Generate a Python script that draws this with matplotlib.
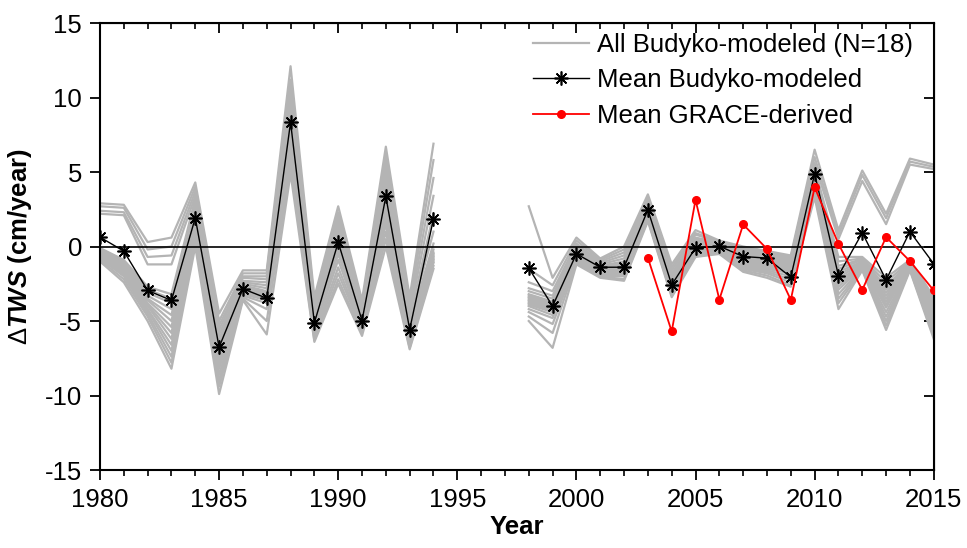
import numpy as np
import matplotlib.pyplot as plt
from matplotlib.ticker import MultipleLocator

plt.rcParams['font.family'] = ['Liberation Sans', 'DejaVu Sans']
plt.rcParams['axes.unicode_minus'] = False
plt.rcParams['mathtext.fontset'] = 'custom'
plt.rcParams['mathtext.rm'] = 'Liberation Sans'
plt.rcParams['mathtext.bfit'] = 'Liberation Sans:italic:bold'

# years of the two modelled periods (gap 1995-1997)
years_a = list(range(1980, 1995))
years_b = list(range(1998, 2016))
years_grace = list(range(2003, 2016))

# 18 Budyko-modeled series, period 1980-1994
models_a = [
    [2.9, 2.8, 0.3, 0.6, 4.3, -4.5, -1.6, -1.6, 12.1, -3.4, 2.7, -3.6, 6.7, -3.4, 6.9],
    [2.7, 2.6, -0.2, 0.0, 4.0, -5.0, -1.8, -1.8, 11.2, -3.7, 2.3, -3.9, 6.2, -3.8, 5.8],
    [2.4, 2.3, -0.7, -0.6, 3.7, -5.3, -2.0, -2.0, 10.6, -4.0, 2.0, -4.1, 5.7, -4.2, 4.6],
    [2.2, 2.1, -1.2, -1.2, 3.4, -5.6, -2.1, -2.2, 10.1, -4.2, 1.7, -4.3, 5.2, -4.5, 3.4],
    [-0.1, -0.9, -2.7, -3.2, 3.2, -5.9, -2.3, -2.4, 9.7, -4.4, 1.4, -4.5, 4.8, -4.8, 2.2],
    [-0.2, -1.0, -2.9, -3.5, 3.0, -6.2, -2.4, -2.6, 9.3, -4.6, 1.1, -4.6, 4.4, -5.0, 1.0],
    [-0.3, -1.1, -3.1, -3.8, 2.8, -6.5, -2.5, -2.8, 9.0, -4.8, 0.9, -4.7, 4.0, -5.2, 0.2],
    [-0.3, -1.2, -3.3, -4.2, 2.6, -6.7, -2.6, -3.0, 8.7, -4.9, 0.7, -4.8, 3.7, -5.4, -0.2],
    [-0.4, -1.3, -3.5, -4.6, 2.4, -6.9, -2.7, -3.1, 8.4, -5.0, 0.5, -4.9, 3.4, -5.6, -0.4],
    [-0.4, -1.4, -3.6, -5.0, 2.2, -7.1, -2.8, -3.2, 8.1, -5.1, 0.3, -5.0, 3.1, -5.8, -0.5],
    [-0.5, -1.5, -3.8, -5.4, 2.0, -7.3, -2.9, -3.3, 7.8, -5.2, 0.1, -5.1, 2.8, -6.0, -0.6],
    [-0.5, -1.6, -3.9, -5.8, 1.8, -7.6, -3.0, -3.4, 7.5, -5.3, -0.2, -5.2, 2.5, -6.1, -0.7],
    [-0.6, -1.7, -4.0, -6.2, 1.5, -7.9, -3.1, -3.5, 7.2, -5.5, -0.5, -5.3, 2.2, -6.2, -0.8],
    [-0.6, -1.8, -4.2, -6.6, 1.2, -8.2, -3.2, -3.6, 6.8, -5.7, -0.9, -5.4, 1.9, -6.4, -0.9],
    [-0.7, -1.9, -4.3, -7.0, 0.9, -8.6, -3.3, -3.8, 6.4, -5.9, -1.4, -5.5, 1.5, -6.5, -1.0],
    [-0.8, -2.0, -4.5, -7.4, 0.6, -9.0, -3.4, -4.2, 6.0, -6.1, -1.8, -5.6, 1.0, -6.6, -1.1],
    [-0.9, -2.2, -4.7, -7.8, 0.3, -9.4, -3.5, -5.0, 5.5, -6.3, -2.2, -5.8, 0.5, -6.8, -1.3],
    [-1.0, -2.4, -5.0, -8.2, 0.0, -9.9, -3.6, -5.9, 4.9, -6.4, -2.5, -6.0, 0.0, -6.9, -1.5],
]

# 18 Budyko-modeled series, period 1998-2015
models_b = [
    [2.7, -2.1, 0.6, -0.8, 0.0, 3.5, -1.2, 1.1, 0.4, 0.0, -0.3, -0.6, 6.5, 1.1, 5.1, 2.2, 5.9, 5.5],
    [-1.5, -2.6, 0.4, -0.9, -0.2, 3.3, -1.4, 0.9, 0.35, -0.1, -0.4, -0.7, 6.0, 0.8, 4.8, 1.9, 5.7, 5.35],
    [-2.4, -3.0, 0.2, -1.0, -0.4, 3.1, -1.6, 0.8, 0.3, -0.2, -0.5, -0.8, 5.6, 0.5, 4.4, 1.5, 5.5, 5.2],
    [-2.8, -3.3, 0.1, -1.1, -0.6, 3.0, -1.8, 0.6, 0.25, -0.3, -0.6, -0.9, 5.3, -0.7, -0.7, -2.1, -0.9, -3.4],
    [-3.0, -3.5, 0.0, -1.2, -0.8, 2.9, -2.0, 0.5, 0.2, -0.4, -0.7, -1.0, 5.0, -1.0, -0.8, -2.4, -0.95, -3.6],
    [-3.2, -3.7, -0.1, -1.3, -1.0, 2.8, -2.1, 0.4, 0.15, -0.5, -0.8, -1.1, 4.8, -1.3, -0.85, -2.7, -1.0, -3.8],
    [-3.3, -3.8, -0.2, -1.3, -1.1, 2.7, -2.2, 0.3, 0.1, -0.6, -0.9, -1.2, 4.6, -1.5, -0.9, -2.9, -1.05, -4.0],
    [-3.4, -3.9, -0.3, -1.4, -1.2, 2.6, -2.3, 0.2, 0.05, -0.7, -1.0, -1.3, 4.4, -1.7, -1.0, -3.1, -1.1, -4.2],
    [-3.5, -4.0, -0.4, -1.4, -1.3, 2.5, -2.4, 0.1, 0.0, -0.8, -1.1, -1.4, 4.3, -1.9, -1.05, -3.3, -1.15, -4.4],
    [-3.6, -4.1, -0.5, -1.5, -1.4, 2.4, -2.5, 0.0, -0.05, -0.9, -1.2, -1.5, 4.2, -2.1, -1.1, -3.5, -1.2, -4.6],
    [-3.7, -4.2, -0.6, -1.5, -1.5, 2.3, -2.6, -0.1, -0.1, -1.0, -1.3, -1.6, 4.1, -2.3, -1.2, -3.7, -1.25, -4.8],
    [-3.8, -4.3, -0.7, -1.6, -1.6, 2.2, -2.7, -0.2, -0.15, -1.1, -1.4, -1.7, 4.0, -2.5, -1.25, -3.9, -1.3, -5.0],
    [-3.9, -4.4, -0.8, -1.7, -1.7, 2.1, -2.8, -0.3, -0.2, -1.2, -1.5, -1.8, 3.9, -2.7, -1.3, -4.1, -1.35, -5.2],
    [-4.0, -4.6, -0.9, -1.8, -1.8, 2.0, -2.9, -0.4, -0.25, -1.3, -1.6, -2.0, 3.8, -2.9, -1.4, -4.4, -1.4, -5.4],
    [-4.2, -4.8, -1.0, -1.9, -1.9, 1.9, -3.0, -0.5, -0.3, -1.4, -1.7, -2.2, 3.7, -3.2, -1.45, -4.7, -1.45, -5.6],
    [-4.4, -5.2, -1.0, -2.0, -2.0, 1.8, -3.1, -0.5, -0.35, -1.5, -1.8, -2.4, 3.6, -3.5, -1.5, -5.0, -1.5, -5.8],
    [-4.7, -5.8, -1.1, -2.0, -2.2, 1.8, -3.3, -0.6, -0.4, -1.6, -1.95, -2.6, 3.5, -3.8, -1.55, -5.3, -1.55, -6.0],
    [-5.0, -6.8, -1.2, -2.1, -2.3, 1.7, -3.4, -0.7, -0.5, -1.7, -2.1, -2.7, 3.3, -4.2, -1.6, -5.6, -1.6, -6.2],
]

# mean of the Budyko-modeled series
mean_a = [0.63, -0.31, -2.95, -3.62, 1.92, -6.76, -2.84, -3.47, 8.34, -5.12,
          0.29, -4.97, 3.36, -5.57, 1.86]
mean_b = [-1.45, -4.0, -0.49, -1.39, -1.39, 2.46, -2.57, -0.09, 0.02, -0.67,
          -0.78, -2.06, 4.88, -1.95, 0.92, -2.24, 1.0, -1.16]

# mean GRACE-derived
grace = [-0.76, -5.7, 3.13, -3.56, 1.48, -0.16, -3.58, 3.98, 0.18, -2.91,
         0.63, -0.98, -2.95]

fig = plt.figure(figsize=(9.67, 5.48), dpi=100)
ax = fig.add_axes([0.1034, 0.1423, 0.8622, 0.8157])

gray = '#b4b4b4'
for i in range(len(models_a)):
    ax.plot(years_a, models_a[i], color=gray, lw=1.6, zorder=1)
    ax.plot(years_b, models_b[i], color=gray, lw=1.6, zorder=1,
            label='All Budyko-modeled (N=18)' if i == 0 else None)

ax.axhline(0, color='black', lw=1.2, zorder=2)

star = (8, 2, 0)
ax.plot(years_a, mean_a, color='black', lw=1.0, marker=star, ms=10, mew=1.2, zorder=3)
ax.plot(years_b, mean_b, color='black', lw=1.0, marker=star, ms=10, mew=1.2, zorder=3,
        label='Mean Budyko-modeled')
ax.plot(years_grace, grace, color='red', lw=1.3, marker='o', ms=5.5, zorder=4,
        label='Mean GRACE-derived')

ax.set_xlim(1980, 2015)
ax.set_ylim(-15, 15)
ax.xaxis.set_major_locator(MultipleLocator(5))
ax.xaxis.set_minor_locator(MultipleLocator(1))
ax.yaxis.set_major_locator(MultipleLocator(5))

for s in ax.spines.values():
    s.set_linewidth(1.5)

ax.tick_params(axis='both', which='major', direction='out', length=7, width=1.3,
               labelsize=18.5, pad=6)
ax.tick_params(axis='x', which='minor', direction='out', length=4, width=1.2)

# mirrored ticks on top and right, pointing inward
top = ax.secondary_xaxis('top')
top.xaxis.set_major_locator(MultipleLocator(5))
top.xaxis.set_minor_locator(MultipleLocator(1))
top.tick_params(which='major', direction='in', length=7, width=1.3, labeltop=False)
top.tick_params(which='minor', direction='in', length=4, width=1.2)
right = ax.secondary_yaxis('right')
right.yaxis.set_major_locator(MultipleLocator(5))
right.tick_params(which='major', direction='in', length=7, width=1.3, labelright=False)

ax.set_xlabel('Year', fontsize=18.5, fontweight='bold', labelpad=2)
ax.set_ylabel(r'$\mathrm{\Delta}\mathbfit{TWS}$ (cm/year)', fontsize=18.5,
              fontweight='bold', labelpad=8)

ax.legend(loc='upper left', bbox_to_anchor=(0.519, 0.978), frameon=False,
          fontsize=18.5, handlelength=2.2, handletextpad=0.3, labelspacing=0.45,
          borderpad=0, borderaxespad=0)

plt.savefig('out.png', dpi=100)
